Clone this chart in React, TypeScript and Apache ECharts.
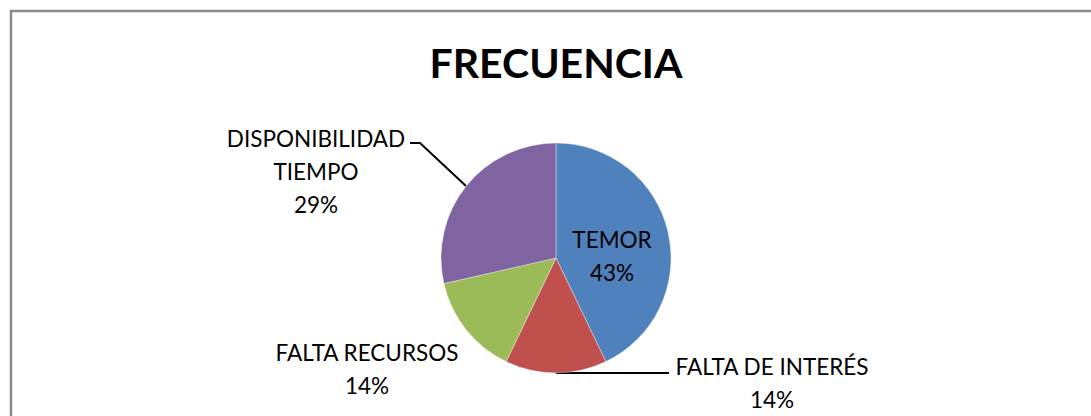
import React, { useEffect, useRef } from "react";
import * as echarts from "echarts";

const categories = ["TEMOR", "FALTA DE INTERÉS", "FALTA RECURSOS", "DISPONIBILIDAD TIEMPO"];
const values = [3, 1, 1, 2];
const colors = ["#4F81BD", "#C0504D", "#9BBB59", "#8064A2"];
const titleText = "FRECUENCIA";

export default function App() {
  const ref = useRef<HTMLDivElement>(null);
  useEffect(() => {
    if (!ref.current) return;
    const chart = echarts.init(ref.current, null, { renderer: "svg" });
    const cx = 556, cy = 258, r = 115;
    const font = "Lato";
    chart.setOption({
      animation: false,
      backgroundColor: "#ffffff",
      graphic: [
        {
          type: "rect",
          shape: { x: 11, y: 11, width: 1300, height: 700 },
          style: { fill: "none", stroke: "#8c8c8c", lineWidth: 2.5 },
          silent: true,
        },
        {
          type: "text",
          x: cx,
          y: 62,
          style: {
            text: titleText,
            fontFamily: font,
            fontWeight: "bold",
            fontSize: 41,
            fill: "#000",
            textAlign: "center",
            textVerticalAlign: "middle",
          },
        },
      ],
      series: [
        {
          type: "pie",
          center: [cx, cy],
          radius: r,
          startAngle: 90,
          clockwise: true,
          percentPrecision: 0,
          itemStyle: { borderColor: "rgba(255,255,255,0.6)", borderWidth: 0.6 },
          label: {
            show: true,
            color: "#000",
            fontFamily: font,
            fontSize: 22.5,
            lineHeight: 33,
            align: "center",
            formatter: (p: any) => {
              const name = p.dataIndex === 3 ? p.name.replace(" ", "\n") : p.name;
              return name + "\n" + p.percent + "%";
            },
          },
          labelLine: { show: true, lineStyle: { color: "#000", width: 2 } },
          labelLayout: (p: any) => {
            switch (p.dataIndex) {
              case 0:
                return { x: 612, y: 256, align: "center", verticalAlign: "middle" };
              case 1:
                return {
                  x: 772,
                  y: 383,
                  align: "center",
                  verticalAlign: "middle",
                  labelLinePoints: [[cx, cy + r], [612, cy + r], [669, cy + r]],
                };
              case 2:
                return { x: 367, y: 369, align: "center", verticalAlign: "middle" };
              default:
                return {
                  x: 316,
                  y: 171,
                  align: "center",
                  verticalAlign: "middle",
                  labelLinePoints: [[466, 186], [420, 143], [410, 143]],
                };
            }
          },
          data: categories.map((name, i) => ({
            name,
            value: values[i],
            itemStyle: { color: colors[i] },
            labelLine: { show: i === 1 || i === 3 },
          })),
        },
      ],
    });
    return () => chart.dispose();
  }, []);
  return (
    <div
      ref={ref}
      style={{ position: "fixed", left: 0, top: 0, width: 1091, height: 416 }}
    />
  );
}
